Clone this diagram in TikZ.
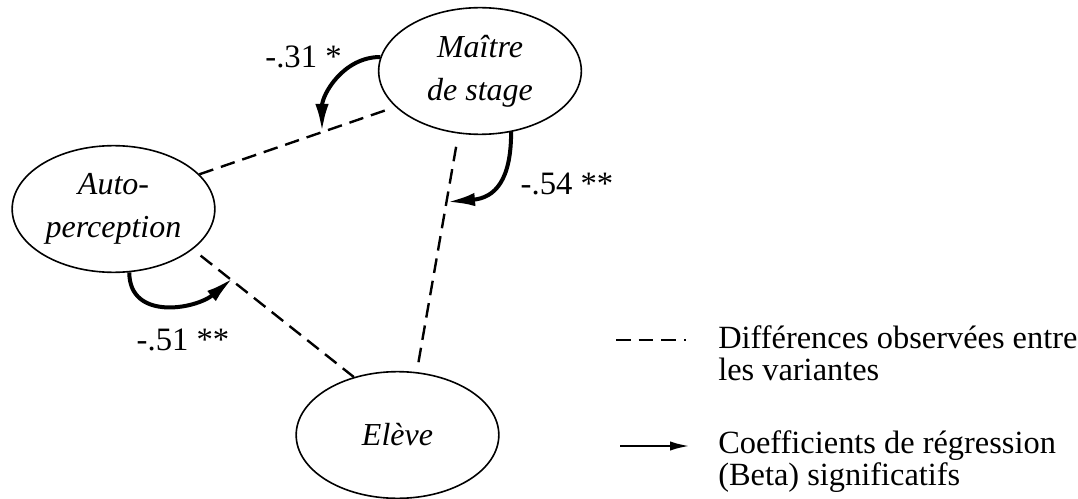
\documentclass[tikz,border=0pt]{standalone}
\usepackage{fontspec}
\setmainfont{Liberation Serif}
\usetikzlibrary{shapes.geometric,arrows.meta}

\begin{document}
\begin{tikzpicture}[x=0.75pt, y=-0.75pt,
  font=\fontsize{24.5}{25}\selectfont,
  acteur/.style={ellipse, draw, line width=1.2pt, inner sep=0pt, align=center,
    minimum width=152pt, minimum height=95pt,
    font=\fontsize{24}{32}\selectfont\itshape},
  diff/.style={line width=1.8pt, dash pattern=on 11pt off 6pt},
  beta/.style={line width=3pt, -{Latex[length=21pt,width=10pt]}},
  legende/.style={anchor=base west, align=left, inner sep=0pt,
    font=\fontsize{24.3}{24}\selectfont}]
  \useasboundingbox (0,0) rectangle (1078,499);

  \node[acteur] (maitre) at (480,71) {Maître\\de stage};
  \node[acteur] (auto) at (113.5,209) {Auto-\\perception};
  \node[acteur] (eleve) at (397.5,435) {Elève};

  % différences entre variantes
  \draw[diff, shorten >=7pt] (auto.22) -- (maitre.203);
  \draw[diff, shorten <=7.5pt] (auto.333.6) -- (eleve.127.5);
  \draw[diff, shorten <=10pt, shorten >=4pt] (maitre.251.6) -- (eleve.73.8);

  % points d'arrivée des flèches
  \coordinate (t1) at (322,132);
  \coordinate (t2) at (447,202);
  \coordinate (t3) at (233,278);

  \draw[beta] (maitre.172.4) to[out=180, in=90] (t1);
  \draw[beta] (maitre.297.3) to[out=-90, in=5, looseness=1.3] (t2);
  \draw[beta] (auto.284.7) to[out=-90, in=220, looseness=1.2] (t3);

  \node (c31) at (303.5,57) {-.31 *};
  \node (c54) at (567,184) {-.54 **};
  \node (c51) at (183,340) {-.51 **};

  % légende (base = dernière ligne)
  \node[legende] (legdiff) at (718,380) {Différences observées entre\\les variantes};
  \node[legende] (legbeta) at (718,485) {Coefficients de régression\\(Beta) significatifs};
  \coordinate (d1) at (616,340);
  \coordinate (d2) at (686,340);
  \coordinate (b1) at (620,446);
  \coordinate (b2) at (690,446);
  \draw[diff] (d1) -- (d2);
  \draw[line width=2pt, -{Latex[length=15pt,width=7pt]}] (b1) -- (b2);
\end{tikzpicture}
\end{document}
